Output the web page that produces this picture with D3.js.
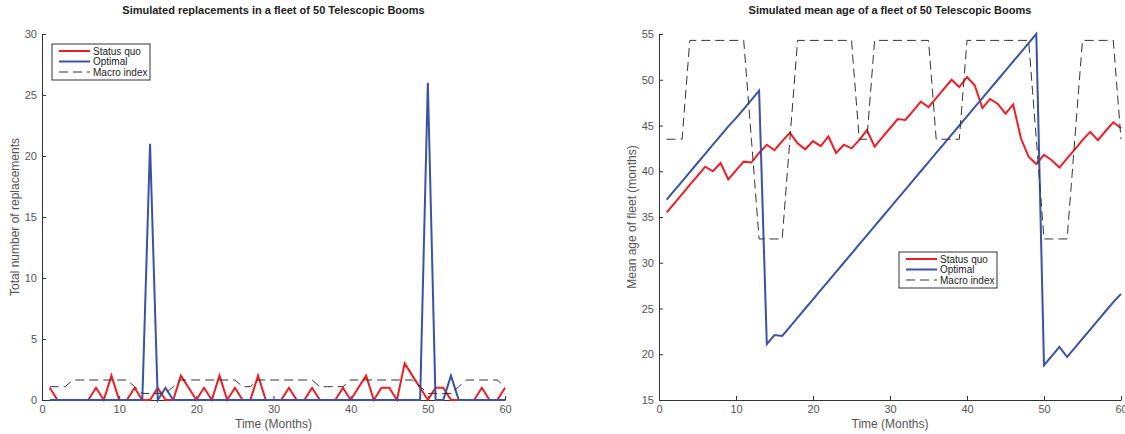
<!DOCTYPE html>
<html>
<head>
<meta charset="utf-8">
<script src="https://cdn.jsdelivr.net/npm/d3@7"></script>
<style>
  body { margin: 0; background: #fff; }
  svg { font-family: "Liberation Sans", Arial, sans-serif; }
  .axis path, .axis line { stroke: #333; }
  .axis text { fill: #555; font-size: 11px; }
</style>
</head>
<body>
<svg id="chart" width="1125" height="434"></svg>
<script>
// months 1..60
var months = d3.range(1, 61);

// left panel: replacements per month
var replStatusQuo = [1,0,0,0,0,0,1,0,2,0, 0,1,0,0,1,0,0,2,1,0,
                     1,0,2,0,1,0,0,2,0,0, 0,1,0,0,1,0,0,0,1,0,
                     1,2,0,1,1,0,3,2,1,0, 1,1,0,0,0,0,1,0,0,1];
var replOptimal   = [0,0,0,0,0,0,0,0,0,0, 0,0,0,21,0,1,0,0,0,0,
                     0,0,0,0,0,0,0,0,0,0, 0,0,0,0,0,0,0,0,0,0,
                     0,0,0,0,0,0,0,0,0,26, 0,0,2,0,0,0,0,0,0,0];
var replMacro     = [1.09,1.09,1.09,1.64,1.64,1.64,1.64,1.64,1.64,1.64,
                     1.64,1.09,0.54,0.54,0.54,0.54,1.09,1.64,1.64,1.64,
                     1.64,1.64,1.64,1.64,1.64,1.09,1.09,1.64,1.64,1.64,
                     1.64,1.64,1.64,1.64,1.64,1.09,1.09,1.09,1.09,1.64,
                     1.64,1.64,1.64,1.64,1.64,1.64,1.64,1.64,1.09,0.54,
                     0.54,0.54,0.54,1.09,1.64,1.64,1.64,1.64,1.64,1.09];

// right panel: mean age of fleet
var ageStatusQuo = [35.5,36.5,37.5,38.5,39.5,40.5,40.0,40.9,39.1,40.1,
                    41.05,40.95,42.0,42.9,42.3,43.3,44.2,43.05,42.4,43.3,
                    42.75,43.8,42.0,42.9,42.5,43.4,44.5,42.7,43.7,44.7,
                    45.7,45.6,46.6,47.6,47.0,48.0,49.0,50.0,49.2,50.3,
                    49.4,46.9,47.9,47.35,46.3,47.3,43.6,41.6,40.8,41.8,
                    41.2,40.4,41.4,42.4,43.4,44.3,43.4,44.4,45.35,44.7];
var ageOptimal   = [36.9,37.9,38.9,39.9,40.9,41.9,42.9,43.9,44.9,45.8,
                    46.8,47.8,48.8,21.1,22.1,22.0,23.0,24.0,25.0,26.0,
                    27.0,28.0,29.0,30.0,31.0,32.0,33.0,34.0,35.0,36.0,
                    37.0,38.0,39.0,40.0,41.0,42.0,43.0,44.0,45.0,46.0,
                    47.0,48.0,49.0,50.0,51.0,52.0,53.0,54.0,55.0,18.8,
                    19.8,20.8,19.7,20.7,21.7,22.7,23.7,24.7,25.7,26.6];
var ageMacro     = [43.5,43.5,43.5,54.3,54.3,54.3,54.3,54.3,54.3,54.3,
                    54.3,43.5,32.6,32.6,32.6,32.6,43.5,54.3,54.3,54.3,
                    54.3,54.3,54.3,54.3,54.3,43.5,43.5,54.3,54.3,54.3,
                    54.3,54.3,54.3,54.3,54.3,43.5,43.5,43.5,43.5,54.3,
                    54.3,54.3,54.3,54.3,54.3,54.3,54.3,54.3,43.5,32.6,
                    32.6,32.6,32.6,43.5,54.3,54.3,54.3,54.3,54.3,43.5];

var xTicks = [0,10,20,30,40,50,60];
var leftYTicks = [0,5,10,15,20,25,30];
var rightYTicks = [15,20,25,30,35,40,45,50,55];
var seriesNames = ["Status quo","Optimal","Macro index"];

var red = "#ee1d24", blue = "#3a53a4", dark = "#333";
var svg = d3.select("#chart");

function panel(opt) {
  var x = d3.scaleLinear().domain([0,60]).range([opt.left, opt.right]);
  var y = d3.scaleLinear().domain(opt.ydom).range([400, 34]);
  var g = svg.append("g");

  g.append("g").attr("class","axis")
    .attr("transform","translate(0,400)")
    .call(d3.axisBottom(x).tickValues(xTicks).tickSizeInner(-4).tickSizeOuter(0).tickPadding(5));
  g.append("g").attr("class","axis")
    .attr("transform","translate("+opt.left+",0)")
    .call(d3.axisLeft(y).tickValues(opt.yticks).tickSizeInner(-4).tickSizeOuter(0).tickPadding(5));

  var line = d3.line()
    .x(function(d,i){ return x(months[i]); })
    .y(function(d){ return y(d); });

  // same order as the legend: status quo, optimal, macro on top
  g.append("path").attr("d", line(opt.sq))
    .attr("fill","none").attr("stroke",red).attr("stroke-width",2);
  g.append("path").attr("d", line(opt.opt))
    .attr("fill","none").attr("stroke",blue).attr("stroke-width",2);
  g.append("path").attr("d", line(opt.macro))
    .attr("fill","none").attr("stroke",dark).attr("stroke-width",1)
    .attr("stroke-dasharray","9,5");

  // title and labels
  var cx = (opt.left + opt.right) / 2;
  g.append("text").attr("x",cx).attr("y",14).attr("text-anchor","middle")
    .style("font-size","11px").style("font-weight","bold").style("fill","#222")
    .text(opt.title);
  g.append("text").attr("x",cx).attr("y",428).attr("text-anchor","middle")
    .style("font-size","12px").style("fill","#555").text("Time (Months)");
  g.append("text").attr("transform","translate("+(opt.left-23)+",217) rotate(-90)")
    .attr("text-anchor","middle").style("font-size","12px").style("fill","#555")
    .text(opt.ylabel);

  // legend
  var lg = g.append("g").attr("transform","translate("+opt.lx+","+opt.ly+")");
  lg.append("rect").attr("width",98).attr("height",36)
    .attr("fill","#fff").attr("stroke",dark).attr("stroke-width",1);
  var styles = [{c:red,w:2,d:null},{c:blue,w:2,d:null},{c:dark,w:1,d:"9,5"}];
  seriesNames.forEach(function(name,i){
    var yy = 7 + i*10.5;
    lg.append("line").attr("x1",7).attr("x2",38).attr("y1",yy).attr("y2",yy)
      .attr("stroke",styles[i].c).attr("stroke-width",styles[i].w)
      .attr("stroke-dasharray",styles[i].d);
    lg.append("text").attr("x",41).attr("y",yy+3.5)
      .style("font-size","10px").style("fill","#222").text(name);
  });
}

panel({left:42, right:505, ydom:[0,30], yticks:leftYTicks,
       sq:replStatusQuo, opt:replOptimal, macro:replMacro,
       title:"Simulated replacements in a fleet of 50 Telescopic Booms",
       ylabel:"Total number of replacements", lx:52, ly:44});
panel({left:659, right:1121, ydom:[15,55], yticks:rightYTicks,
       sq:ageStatusQuo, opt:ageOptimal, macro:ageMacro,
       title:"Simulated mean age of a fleet of 50 Telescopic Booms",
       ylabel:"Mean age of fleet (months)", lx:899, ly:252});
</script>
</body>
</html>
